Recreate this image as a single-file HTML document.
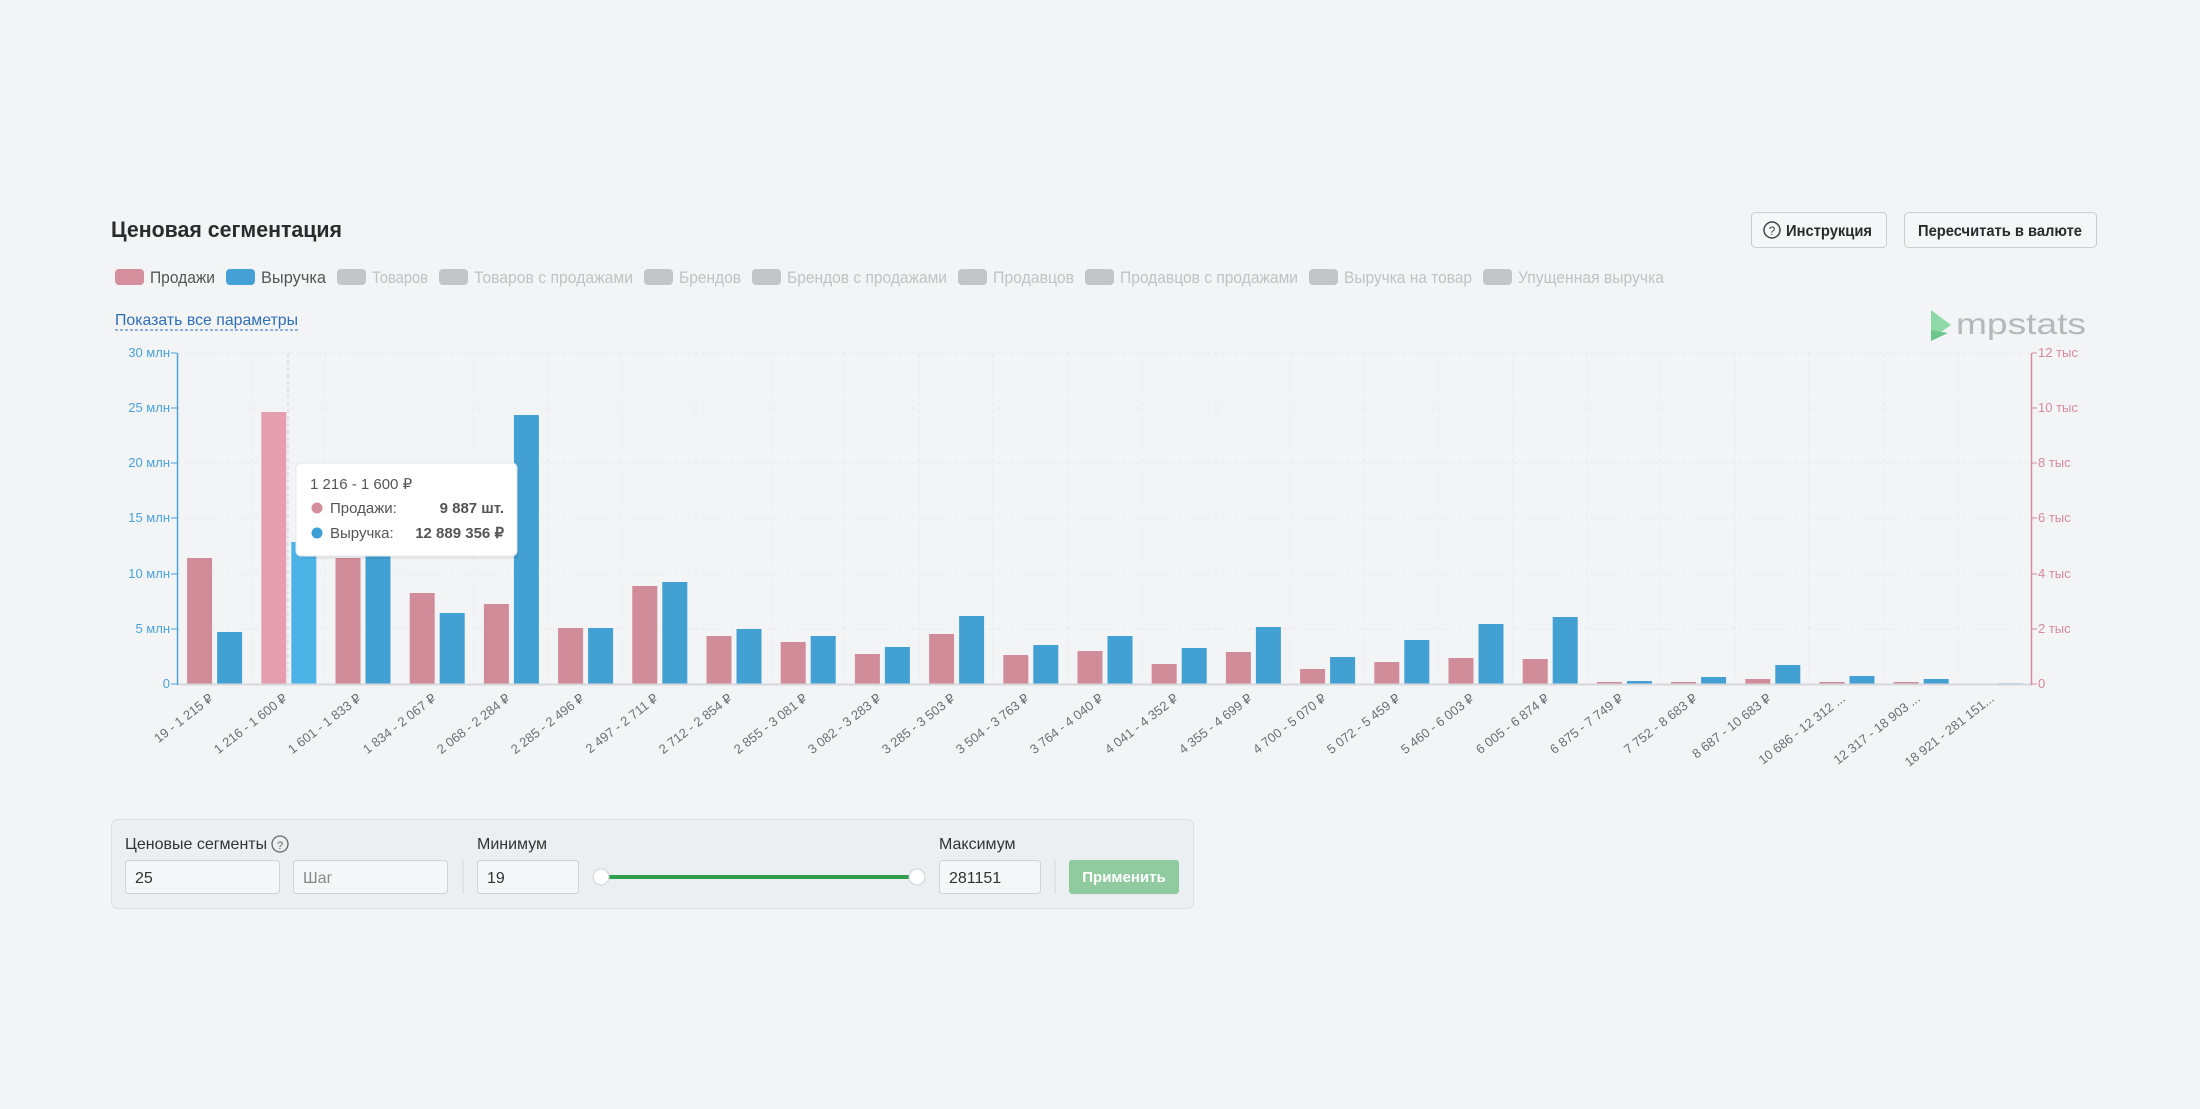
<!DOCTYPE html>
<html><head><meta charset="utf-8"><style>
html,body{margin:0;padding:0;background:#f3f4f6;}
svg{display:block;font-family:"Liberation Sans",sans-serif;}
</style></head><body>
<svg width="2200" height="1109" viewBox="0 0 2200 1109" xmlns="http://www.w3.org/2000/svg">
<rect width="2200" height="1109" fill="#f3f4f6"/>
<text x="111" y="237" font-size="22" font-weight="bold" fill="#2b2b2b" textLength="231" lengthAdjust="spacingAndGlyphs">Ценовая сегментация</text>
<rect x="1751.5" y="212.5" width="135" height="35" rx="4" fill="#f5f6f8" stroke="#c9ccd1"/>
<circle cx="1772" cy="230" r="8" fill="none" stroke="#444" stroke-width="1.5"/>
<text x="1772" y="235" font-size="12" text-anchor="middle" fill="#444">?</text>
<text x="1786" y="236" font-size="16" font-weight="bold" fill="#2b2b2b" textLength="86" lengthAdjust="spacingAndGlyphs">Инструкция</text>
<rect x="1904.5" y="212.5" width="192" height="35" rx="4" fill="#f5f6f8" stroke="#c9ccd1"/>
<text x="1918" y="236" font-size="16" font-weight="bold" fill="#2b2b2b" textLength="164" lengthAdjust="spacingAndGlyphs">Пересчитать в валюте</text>
<g font-size="17">
<rect x="115" y="269" width="29" height="16" rx="4" fill="#d58e9c"/><text x="150" y="283" fill="#555" textLength="65" lengthAdjust="spacingAndGlyphs">Продажи</text>
<rect x="226" y="269" width="29" height="16" rx="4" fill="#44a0d5"/><text x="261" y="283" fill="#555" textLength="65" lengthAdjust="spacingAndGlyphs">Выручка</text>
<g fill="#c3c5c8">
<rect x="337" y="269" width="29" height="16" rx="4"/><rect x="439" y="269" width="29" height="16" rx="4"/><rect x="644" y="269" width="29" height="16" rx="4"/><rect x="752" y="269" width="29" height="16" rx="4"/><rect x="958" y="269" width="29" height="16" rx="4"/><rect x="1085" y="269" width="29" height="16" rx="4"/><rect x="1309" y="269" width="29" height="16" rx="4"/><rect x="1483" y="269" width="29" height="16" rx="4"/>
</g>
<g fill="#c0c2c5">
<text x="372" y="283" textLength="56" lengthAdjust="spacingAndGlyphs">Товаров</text>
<text x="474" y="283" textLength="159" lengthAdjust="spacingAndGlyphs">Товаров с продажами</text>
<text x="679" y="283" textLength="62" lengthAdjust="spacingAndGlyphs">Брендов</text>
<text x="787" y="283" textLength="160" lengthAdjust="spacingAndGlyphs">Брендов с продажами</text>
<text x="993" y="283" textLength="81" lengthAdjust="spacingAndGlyphs">Продавцов</text>
<text x="1120" y="283" textLength="178" lengthAdjust="spacingAndGlyphs">Продавцов с продажами</text>
<text x="1344" y="283" textLength="128" lengthAdjust="spacingAndGlyphs">Выручка на товар</text>
<text x="1518" y="283" textLength="146" lengthAdjust="spacingAndGlyphs">Упущенная выручка</text>
</g></g>
<text x="115" y="325" font-size="16" fill="#2f6fb5" textLength="183" lengthAdjust="spacingAndGlyphs">Показать все параметры</text>
<line x1="115" y1="330" x2="298" y2="330" stroke="#2f6fb5" stroke-dasharray="3,2"/>
<polygon points="1931,310 1951,325 1931,339" fill="#8fd8a8"/>
<polygon points="1931,330 1948,333 1931,341" fill="#6cc68e"/>
<text x="1956" y="334" font-size="30" fill="#b5b7ba" textLength="130" lengthAdjust="spacingAndGlyphs">mpstats</text>
<g stroke="#e8eaed" stroke-dasharray="4,3">
<line x1="177" y1="353" x2="2032" y2="353"/><line x1="177" y1="408" x2="2032" y2="408"/><line x1="177" y1="463" x2="2032" y2="463"/><line x1="177" y1="518" x2="2032" y2="518"/><line x1="177" y1="574" x2="2032" y2="574"/><line x1="177" y1="629" x2="2032" y2="629"/>
<line x1="251" y1="353" x2="251" y2="684"/><line x1="325" y1="353" x2="325" y2="684"/><line x1="400" y1="353" x2="400" y2="684"/><line x1="474" y1="353" x2="474" y2="684"/><line x1="548" y1="353" x2="548" y2="684"/><line x1="622" y1="353" x2="622" y2="684"/><line x1="696" y1="353" x2="696" y2="684"/><line x1="771" y1="353" x2="771" y2="684"/><line x1="845" y1="353" x2="845" y2="684"/><line x1="919" y1="353" x2="919" y2="684"/><line x1="993" y1="353" x2="993" y2="684"/><line x1="1067" y1="353" x2="1067" y2="684"/><line x1="1142" y1="353" x2="1142" y2="684"/><line x1="1216" y1="353" x2="1216" y2="684"/><line x1="1290" y1="353" x2="1290" y2="684"/><line x1="1364" y1="353" x2="1364" y2="684"/><line x1="1438" y1="353" x2="1438" y2="684"/><line x1="1513" y1="353" x2="1513" y2="684"/><line x1="1587" y1="353" x2="1587" y2="684"/><line x1="1661" y1="353" x2="1661" y2="684"/><line x1="1735" y1="353" x2="1735" y2="684"/><line x1="1809" y1="353" x2="1809" y2="684"/><line x1="1884" y1="353" x2="1884" y2="684"/><line x1="1958" y1="353" x2="1958" y2="684"/>
</g>
<line x1="288" y1="353" x2="288" y2="684" stroke="#cfd2d6" stroke-dasharray="4,3"/>
<g>
<g transform="translate(214.1,0)"><rect x="-27" y="558" width="25" height="126" fill="#d08c99"/><rect x="3" y="632" width="25" height="52" fill="#42a0d3"/></g>
<g transform="translate(288.3,0)"><rect x="-27" y="412" width="25" height="272" fill="#e59ead"/><rect x="3" y="542" width="25" height="142" fill="#4db2e6"/></g>
<g transform="translate(362.5,0)"><rect x="-27" y="558" width="25" height="126" fill="#d08c99"/><rect x="3" y="556" width="25" height="128" fill="#42a0d3"/></g>
<g transform="translate(436.7,0)"><rect x="-27" y="593" width="25" height="91" fill="#d08c99"/><rect x="3" y="613" width="25" height="71" fill="#42a0d3"/></g>
<g transform="translate(510.9,0)"><rect x="-27" y="604" width="25" height="80" fill="#d08c99"/><rect x="3" y="415" width="25" height="269" fill="#42a0d3"/></g>
<g transform="translate(585.1,0)"><rect x="-27" y="628" width="25" height="56" fill="#d08c99"/><rect x="3" y="628" width="25" height="56" fill="#42a0d3"/></g>
<g transform="translate(659.3,0)"><rect x="-27" y="586" width="25" height="98" fill="#d08c99"/><rect x="3" y="582" width="25" height="102" fill="#42a0d3"/></g>
<g transform="translate(733.5,0)"><rect x="-27" y="636" width="25" height="48" fill="#d08c99"/><rect x="3" y="629" width="25" height="55" fill="#42a0d3"/></g>
<g transform="translate(807.7,0)"><rect x="-27" y="642" width="25" height="42" fill="#d08c99"/><rect x="3" y="636" width="25" height="48" fill="#42a0d3"/></g>
<g transform="translate(881.9,0)"><rect x="-27" y="654" width="25" height="30" fill="#d08c99"/><rect x="3" y="647" width="25" height="37" fill="#42a0d3"/></g>
<g transform="translate(956.1,0)"><rect x="-27" y="634" width="25" height="50" fill="#d08c99"/><rect x="3" y="616" width="25" height="68" fill="#42a0d3"/></g>
<g transform="translate(1030.3,0)"><rect x="-27" y="655" width="25" height="29" fill="#d08c99"/><rect x="3" y="645" width="25" height="39" fill="#42a0d3"/></g>
<g transform="translate(1104.5,0)"><rect x="-27" y="651" width="25" height="33" fill="#d08c99"/><rect x="3" y="636" width="25" height="48" fill="#42a0d3"/></g>
<g transform="translate(1178.7,0)"><rect x="-27" y="664" width="25" height="20" fill="#d08c99"/><rect x="3" y="648" width="25" height="36" fill="#42a0d3"/></g>
<g transform="translate(1252.9,0)"><rect x="-27" y="652" width="25" height="32" fill="#d08c99"/><rect x="3" y="627" width="25" height="57" fill="#42a0d3"/></g>
<g transform="translate(1327.1,0)"><rect x="-27" y="669" width="25" height="15" fill="#d08c99"/><rect x="3" y="657" width="25" height="27" fill="#42a0d3"/></g>
<g transform="translate(1401.3,0)"><rect x="-27" y="662" width="25" height="22" fill="#d08c99"/><rect x="3" y="640" width="25" height="44" fill="#42a0d3"/></g>
<g transform="translate(1475.5,0)"><rect x="-27" y="658" width="25" height="26" fill="#d08c99"/><rect x="3" y="624" width="25" height="60" fill="#42a0d3"/></g>
<g transform="translate(1549.7,0)"><rect x="-27" y="659" width="25" height="25" fill="#d08c99"/><rect x="3" y="617" width="25" height="67" fill="#42a0d3"/></g>
<g transform="translate(1623.9,0)"><rect x="-27" y="682" width="25" height="2" fill="#d08c99"/><rect x="3" y="681" width="25" height="3" fill="#42a0d3"/></g>
<g transform="translate(1698.1,0)"><rect x="-27" y="682" width="25" height="2" fill="#d08c99"/><rect x="3" y="677" width="25" height="7" fill="#42a0d3"/></g>
<g transform="translate(1772.3,0)"><rect x="-27" y="679" width="25" height="5" fill="#d08c99"/><rect x="3" y="665" width="25" height="19" fill="#42a0d3"/></g>
<g transform="translate(1846.5,0)"><rect x="-27" y="682" width="25" height="2" fill="#d08c99"/><rect x="3" y="676" width="25" height="8" fill="#42a0d3"/></g>
<g transform="translate(1920.7,0)"><rect x="-27" y="682" width="25" height="2" fill="#d08c99"/><rect x="3" y="679" width="25" height="5" fill="#42a0d3"/></g>
<g transform="translate(1994.9,0)"><rect x="3" y="683" width="25" height="1" fill="#9fcbe6"/></g>
</g>
<line x1="177" y1="684.5" x2="2032" y2="684.5" stroke="#d5d8dc" stroke-width="2"/>
<line x1="177.5" y1="353" x2="177.5" y2="685" stroke="#4aa3d9" stroke-width="1.5"/>
<line x1="2031.5" y1="353" x2="2031.5" y2="685" stroke="#d68a9a" stroke-width="1.5"/>
<g font-size="13" fill="#4aa3d9" text-anchor="end">
<text x="170" y="357">30 млн</text><text x="170" y="412">25 млн</text><text x="170" y="467">20 млн</text><text x="170" y="522">15 млн</text><text x="170" y="578">10 млн</text><text x="170" y="633">5 млн</text><text x="170" y="688">0</text>
</g>
<g stroke="#4aa3d9"><line x1="171" y1="353" x2="177" y2="353"/><line x1="171" y1="408" x2="177" y2="408"/><line x1="171" y1="463" x2="177" y2="463"/><line x1="171" y1="518" x2="177" y2="518"/><line x1="171" y1="574" x2="177" y2="574"/><line x1="171" y1="629" x2="177" y2="629"/><line x1="171" y1="684" x2="177" y2="684"/></g>
<g stroke="#d68a9a"><line x1="2032" y1="353" x2="2037" y2="353"/><line x1="2032" y1="408" x2="2037" y2="408"/><line x1="2032" y1="463" x2="2037" y2="463"/><line x1="2032" y1="518" x2="2037" y2="518"/><line x1="2032" y1="574" x2="2037" y2="574"/><line x1="2032" y1="629" x2="2037" y2="629"/><line x1="2032" y1="684" x2="2037" y2="684"/></g>
<g font-size="13" fill="#d68a9a">
<text x="2038" y="357">12 тыс</text><text x="2038" y="412">10 тыс</text><text x="2038" y="467">8 тыс</text><text x="2038" y="522">6 тыс</text><text x="2038" y="578">4 тыс</text><text x="2038" y="633">2 тыс</text><text x="2038" y="688">0</text>
</g>
<g font-size="13" fill="#6b6f75" text-anchor="end">
<text transform="translate(214,700) rotate(-38)">19 - 1 215 ₽</text>
<text transform="translate(288,700) rotate(-38)">1 216 - 1 600 ₽</text>
<text transform="translate(362,700) rotate(-38)">1 601 - 1 833 ₽</text>
<text transform="translate(437,700) rotate(-38)">1 834 - 2 067 ₽</text>
<text transform="translate(511,700) rotate(-38)">2 068 - 2 284 ₽</text>
<text transform="translate(585,700) rotate(-38)">2 285 - 2 496 ₽</text>
<text transform="translate(659,700) rotate(-38)">2 497 - 2 711 ₽</text>
<text transform="translate(733,700) rotate(-38)">2 712 - 2 854 ₽</text>
<text transform="translate(808,700) rotate(-38)">2 855 - 3 081 ₽</text>
<text transform="translate(882,700) rotate(-38)">3 082 - 3 283 ₽</text>
<text transform="translate(956,700) rotate(-38)">3 285 - 3 503 ₽</text>
<text transform="translate(1030,700) rotate(-38)">3 504 - 3 763 ₽</text>
<text transform="translate(1104,700) rotate(-38)">3 764 - 4 040 ₽</text>
<text transform="translate(1179,700) rotate(-38)">4 041 - 4 352 ₽</text>
<text transform="translate(1253,700) rotate(-38)">4 355 - 4 699 ₽</text>
<text transform="translate(1327,700) rotate(-38)">4 700 - 5 070 ₽</text>
<text transform="translate(1401,700) rotate(-38)">5 072 - 5 459 ₽</text>
<text transform="translate(1475,700) rotate(-38)">5 460 - 6 003 ₽</text>
<text transform="translate(1550,700) rotate(-38)">6 005 - 6 874 ₽</text>
<text transform="translate(1624,700) rotate(-38)">6 875 - 7 749 ₽</text>
<text transform="translate(1698,700) rotate(-38)">7 752 - 8 683 ₽</text>
<text transform="translate(1772,700) rotate(-38)">8 687 - 10 683 ₽</text>
<text transform="translate(1846,700) rotate(-38)">10 686 - 12 312 ...</text>
<text transform="translate(1921,700) rotate(-38)">12 317 - 18 903 ...</text>
<text transform="translate(1995,700) rotate(-38)">18 921 - 281 151...</text>
</g>
<rect x="298" y="465" width="220" height="92" rx="5" fill="#000" opacity="0.06" transform="translate(1,2)"/>
<rect x="296" y="463" width="221" height="93" rx="5" fill="#fff" stroke="#e6e8eb"/>
<text x="310" y="489" font-size="15" fill="#555">1 216 - 1 600 ₽</text>
<circle cx="317" cy="508" r="5.5" fill="#d58e9c"/>
<text x="330" y="513" font-size="15" fill="#555">Продажи:</text>
<text x="504" y="513" font-size="15" font-weight="bold" fill="#555" text-anchor="end">9 887 шт.</text>
<circle cx="317" cy="533" r="5.5" fill="#3d9fd6"/>
<text x="330" y="538" font-size="15" fill="#555">Выручка:</text>
<text x="504" y="538" font-size="15" font-weight="bold" fill="#555" text-anchor="end">12 889 356 ₽</text>
<rect x="111.5" y="819.5" width="1082" height="89" rx="6" fill="#eceff2" stroke="#dde0e4"/>
<text x="125" y="849" font-size="16" fill="#333">Ценовые сегменты</text>
<circle cx="280" cy="844" r="8" fill="none" stroke="#666" stroke-width="1.3"/>
<text x="280" y="849" font-size="11" fill="#666" text-anchor="middle">?</text>
<text x="477" y="849" font-size="16" fill="#333">Минимум</text>
<text x="939" y="849" font-size="16" fill="#333">Максимум</text>
<rect x="125.5" y="860.5" width="154" height="33" rx="3" fill="#f5f6f8" stroke="#cfd2d6"/>
<text x="135" y="883" font-size="16" fill="#333">25</text>
<rect x="293.5" y="860.5" width="154" height="33" rx="3" fill="#f5f6f8" stroke="#cfd2d6"/>
<text x="303" y="883" font-size="16" fill="#888">Шаг</text>
<line x1="463" y1="860" x2="463" y2="894" stroke="#d5d8dc"/>
<rect x="477.5" y="860.5" width="101" height="33" rx="3" fill="#f5f6f8" stroke="#cfd2d6"/>
<text x="487" y="883" font-size="16" fill="#333">19</text>
<line x1="602" y1="877" x2="917" y2="877" stroke="#2f9e4f" stroke-width="4"/>
<circle cx="601" cy="877" r="8" fill="#fff" stroke="#cfd2d6"/>
<circle cx="917" cy="877" r="8" fill="#fff" stroke="#cfd2d6"/>
<rect x="939.5" y="860.5" width="101" height="33" rx="3" fill="#f5f6f8" stroke="#cfd2d6"/>
<text x="949" y="883" font-size="16" fill="#333">281151</text>
<line x1="1055" y1="860" x2="1055" y2="894" stroke="#d5d8dc"/>
<rect x="1069" y="860" width="110" height="34" rx="3" fill="#8fcb9f"/>
<text x="1124" y="882" font-size="15" font-weight="bold" fill="#fff" text-anchor="middle">Применить</text>
</svg>
</body></html>
